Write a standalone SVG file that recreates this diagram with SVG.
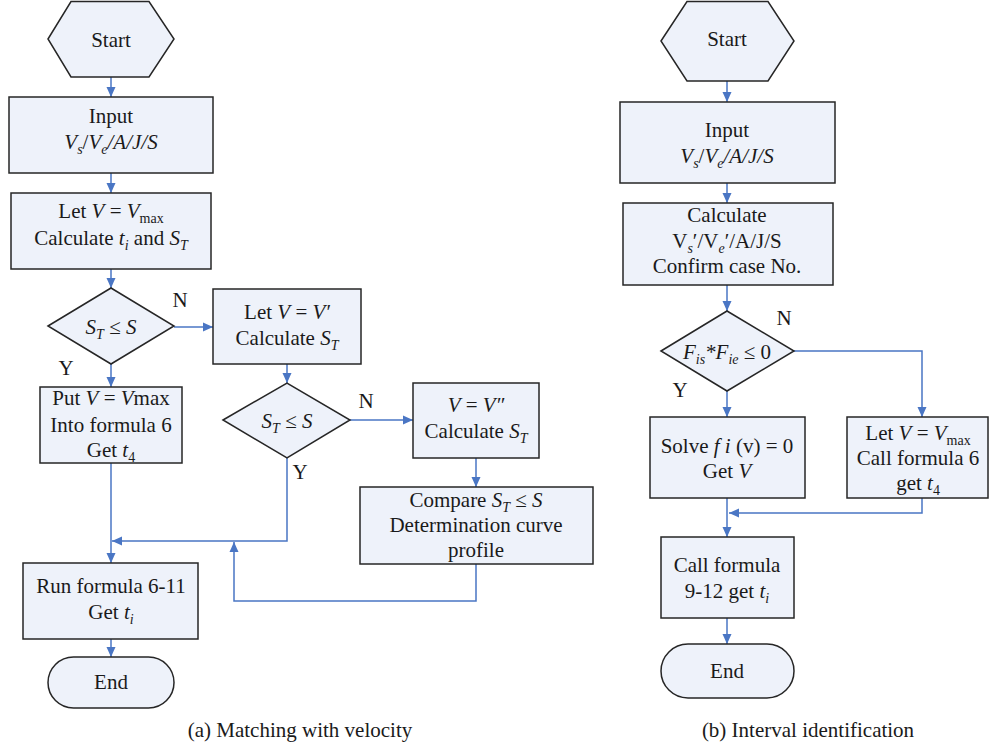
<svg xmlns="http://www.w3.org/2000/svg" width="989" height="748" viewBox="0 0 989 748">
<style>
.n{fill:#eef2fa;stroke:#262626;stroke-width:1.5}
.c{fill:none;stroke:#4a76c4;stroke-width:1.5}
text{font-size:21px;fill:#1a1a1a;text-anchor:middle}
.i{font-style:italic}
.s{font-size:14px}
</style>
<defs>
<marker id="a" viewBox="0 0 10 10" refX="10" refY="5" markerWidth="10" markerHeight="10" markerUnits="userSpaceOnUse" orient="auto">
<path d="M0,0.5 L10,5 L0,9.5 Z" fill="#4a76c4"/>
</marker>
</defs>
<rect width="989" height="748" fill="#fff"/>
<g font-family="'Liberation Serif', 'DejaVu Serif', serif">
<g id="connectors">
<path class="c" marker-end="url(#a)" d="M111,77 V97"/>
<path class="c" marker-end="url(#a)" d="M111,173 V193"/>
<path class="c" marker-end="url(#a)" d="M111,269 V288"/>
<path class="c" marker-end="url(#a)" d="M174,327 H213"/>
<path class="c" marker-end="url(#a)" d="M111,364 V387"/>
<path class="c" marker-end="url(#a)" d="M287,364 V383"/>
<path class="c" marker-end="url(#a)" d="M350,420 H413"/>
<path class="c" marker-end="url(#a)" d="M476,458 V487"/>
<path class="c" marker-end="url(#a)" d="M111,463 V563"/>
<path class="c" marker-end="url(#a)" d="M287,458 V541 H112"/>
<path class="c" marker-end="url(#a)" d="M476,564 V601 H234 V542"/>
<path class="c" marker-end="url(#a)" d="M111,639 V657"/>
<path class="c" marker-end="url(#a)" d="M727,81 V102"/>
<path class="c" marker-end="url(#a)" d="M727,183 V203"/>
<path class="c" marker-end="url(#a)" d="M727,285 V311"/>
<path class="c" marker-end="url(#a)" d="M727,391 V417"/>
<path class="c" marker-end="url(#a)" d="M794,351 H922 V417"/>
<path class="c" marker-end="url(#a)" d="M727,498 V537"/>
<path class="c" marker-end="url(#a)" d="M922,498 V513 H729"/>
<path class="c" marker-end="url(#a)" d="M727,618 V644"/>
</g>
<g id="labels">
<text x="180" y="307">N</text>
<text x="66" y="375">Y</text>
<text x="366" y="408">N</text>
<text x="300" y="479">Y</text>
<text x="784" y="325">N</text>
<text x="680" y="397">Y</text>
<text x="300" y="737">(a) Matching with velocity</text>
<text x="808" y="737">(b) Interval identification</text>
</g>
<g id="a-start">
<polygon class="n" points="48,39 71,1.5 149,1.5 174,39 149,77 71,77"/>
<text x="111" y="47">Start</text>
</g>
<g id="a-input">
<rect class="n" x="9" y="97" width="204" height="76"/>
<text x="111" y="123">Input</text>
<text x="111" y="149"><tspan class="i">V</tspan><tspan class="i s" dy="5">s</tspan><tspan dy="-5">/</tspan><tspan class="i">V</tspan><tspan class="i s" dy="5">e</tspan><tspan class="i" dy="-5">/A/J/S</tspan></text>
</g>
<g id="a-letvmax">
<rect class="n" x="11" y="193" width="200" height="76"/>
<text x="111" y="218">Let <tspan class="i">V</tspan> = <tspan class="i">V</tspan><tspan class="s" dy="5">max</tspan></text>
<text x="111" y="245">Calculate <tspan class="i">t</tspan><tspan class="i s" dy="5">i</tspan><tspan dy="-5"> and </tspan><tspan class="i">S</tspan><tspan class="i s" dy="5">T</tspan></text>
</g>
<g id="a-dec1">
<polygon class="n" points="48,326 111,288 174,326 111,364"/>
<text x="111" y="334"><tspan class="i">S</tspan><tspan class="i s" dy="5">T</tspan><tspan dy="-5"> ≤ </tspan><tspan class="i">S</tspan></text>
</g>
<g id="a-letv1">
<rect class="n" x="213" y="289" width="148" height="75"/>
<text x="287" y="319">Let <tspan class="i">V</tspan> = <tspan class="i">V′</tspan></text>
<text x="287" y="345">Calculate <tspan class="i">S</tspan><tspan class="i s" dy="5">T</tspan></text>
</g>
<g id="a-put">
<rect class="n" x="40" y="387" width="142" height="76"/>
<text x="111" y="405">Put <tspan class="i">V</tspan> = <tspan class="i">V</tspan>max</text>
<text x="111" y="432">Into formula 6</text>
<text x="111" y="457">Get <tspan class="i">t</tspan><tspan class="s" dy="5">4</tspan></text>
</g>
<g id="a-dec2">
<polygon class="n" points="223,420 287,383 350,420 287,458"/>
<text x="287" y="428"><tspan class="i">S</tspan><tspan class="i s" dy="5">T</tspan><tspan dy="-5"> ≤ </tspan><tspan class="i">S</tspan></text>
</g>
<g id="a-letv2">
<rect class="n" x="413" y="383" width="126" height="75"/>
<text x="476" y="412"><tspan class="i">V</tspan> = <tspan class="i">V″</tspan></text>
<text x="476" y="438">Calculate <tspan class="i">S</tspan><tspan class="i s" dy="5">T</tspan></text>
</g>
<g id="a-compare">
<rect class="n" x="360" y="487" width="233" height="77"/>
<text x="476" y="507">Compare <tspan class="i">S</tspan><tspan class="i s" dy="5">T</tspan><tspan dy="-5"> ≤ </tspan><tspan class="i">S</tspan></text>
<text x="476" y="532">Determination curve</text>
<text x="476" y="557">profile</text>
</g>
<g id="a-run">
<rect class="n" x="23" y="563" width="175" height="76"/>
<text x="111" y="593">Run formula 6-11</text>
<text x="111" y="619">Get <tspan class="i">t</tspan><tspan class="i s" dy="5">i</tspan></text>
</g>
<g id="a-end">
<rect class="n" x="48" y="657" width="126" height="51" rx="25.5"/>
<text x="111" y="689">End</text>
</g>
<g id="b-start">
<polygon class="n" points="661,41 687,1.5 768,1.5 794,41 768,81 687,81"/>
<text x="727" y="46">Start</text>
</g>
<g id="b-input">
<rect class="n" x="620" y="102" width="215" height="81"/>
<text x="727" y="137">Input</text>
<text x="727" y="163"><tspan class="i">V</tspan><tspan class="i s" dy="5">s</tspan><tspan dy="-5">/</tspan><tspan class="i">V</tspan><tspan class="i s" dy="5">e</tspan><tspan class="i" dy="-5">/A/J/S</tspan></text>
</g>
<g id="b-calc">
<rect class="n" x="623" y="203" width="210" height="82"/>
<text x="727" y="222">Calculate</text>
<text x="727" y="248">V<tspan class="i s" dy="5">s</tspan><tspan dy="-5">′/V</tspan><tspan class="i s" dy="5">e</tspan><tspan dy="-5">′/A/J/S</tspan></text>
<text x="727" y="273">Confirm case No.</text>
</g>
<g id="b-dec">
<polygon class="n" points="661,351 727,311 794,351 727,391"/>
<text x="727" y="359"><tspan class="i">F</tspan><tspan class="i s" dy="5">is</tspan><tspan class="i" dy="-5">*F</tspan><tspan class="i s" dy="5">ie</tspan><tspan dy="-5"> ≤ 0</tspan></text>
</g>
<g id="b-solve">
<rect class="n" x="650" y="417" width="155" height="81"/>
<text x="727" y="453">Solve <tspan class="i">f i</tspan> (v) = 0</text>
<text x="727" y="478">Get <tspan class="i">V</tspan></text>
</g>
<g id="b-letv">
<rect class="n" x="847" y="417" width="141" height="81"/>
<text x="918" y="440">Let <tspan class="i">V</tspan> = <tspan class="i">V</tspan><tspan class="s" dy="5">max</tspan></text>
<text x="918" y="465">Call formula 6</text>
<text x="918" y="490">get <tspan class="i">t</tspan><tspan class="s" dy="5">4</tspan></text>
</g>
<g id="b-call">
<rect class="n" x="661" y="537" width="133" height="81"/>
<text x="727" y="572">Call formula</text>
<text x="727" y="598">9-12 get <tspan class="i">t</tspan><tspan class="i s" dy="5">i</tspan></text>
</g>
<g id="b-end">
<rect class="n" x="661" y="644" width="133" height="54" rx="27"/>
<text x="727" y="678">End</text>
</g>
</g>
</svg>
